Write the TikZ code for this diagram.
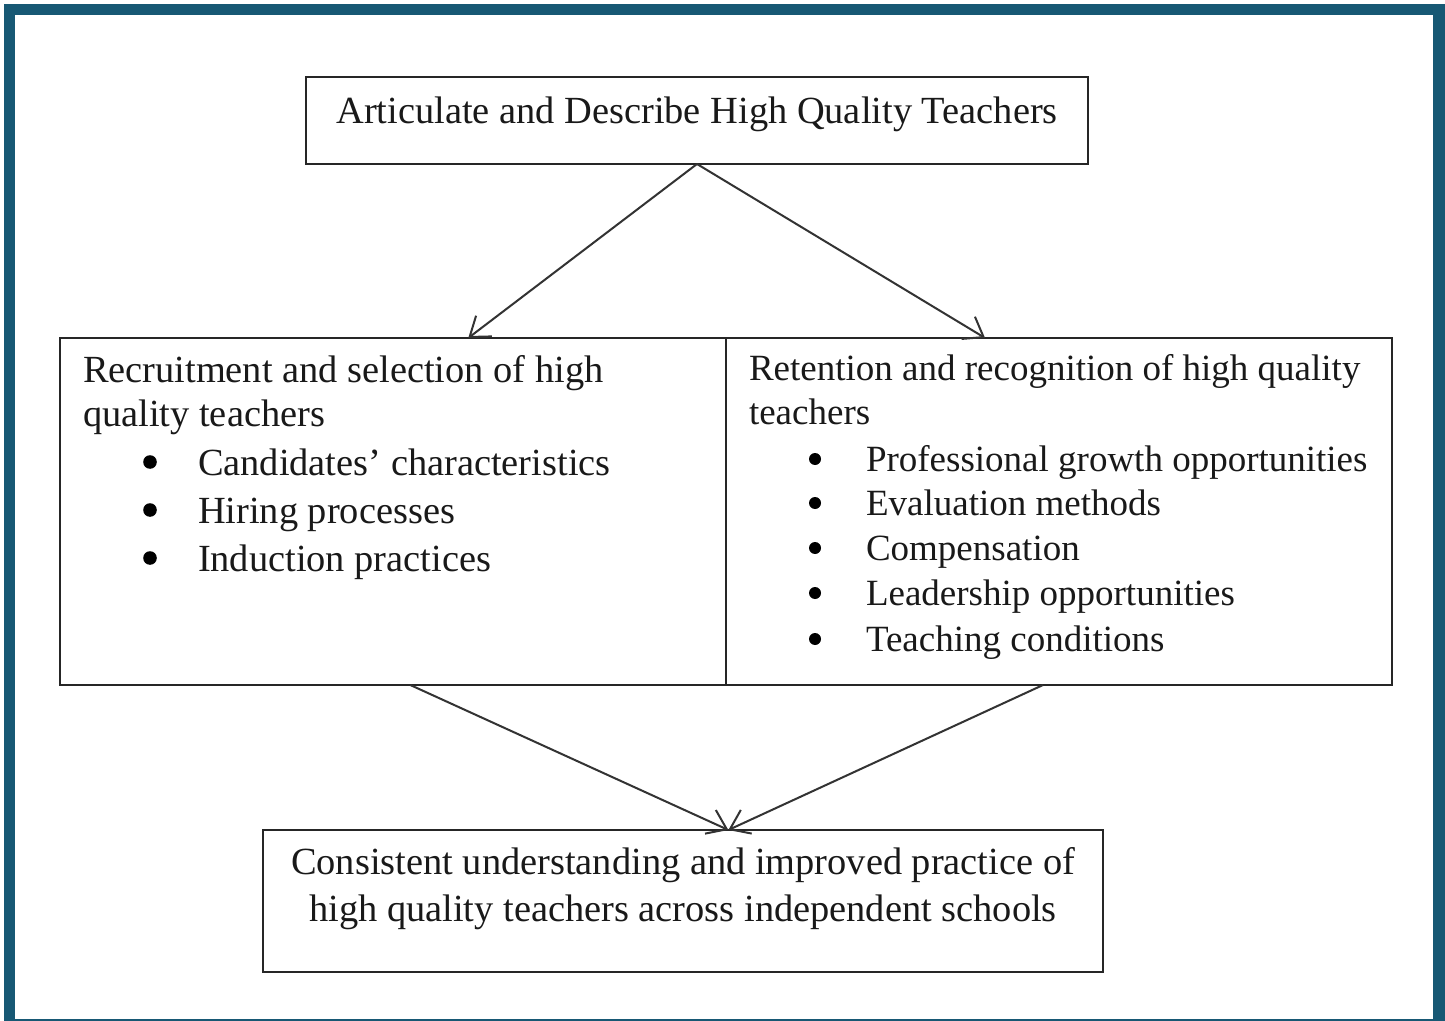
\documentclass[tikz,border=0pt]{standalone}
\usepackage{fontspec}
\setmainfont{Liberation Serif}
\usetikzlibrary{arrows.meta,calc}
\definecolor{framecol}{RGB}{23,88,116}
\begin{document}
\begin{tikzpicture}[x=0.5pt,y=-0.5pt,
  box/.style={draw=black!85,line width=1pt,inner sep=0pt,outer sep=0pt},
  txt/.style={inner sep=0pt,outer sep=0pt,font=\fontsize{19.2pt}{23pt}\selectfont,text=black!90},
  rtxt/.style={txt,font=\fontsize{18.5pt}{23pt}\selectfont},
  lt/.style={txt,anchor=base west},
  rlt/.style={rtxt,anchor=base west},
  ct/.style={txt,anchor=base},
  dot/.style={circle,fill=black,inner sep=0pt,outer sep=0pt},
  conn/.style={draw=black!80,line width=1pt,-{Straight Barb[length=9pt,width=13pt,line width=1pt]}}]
\useasboundingbox (0,0) rectangle (1445,1021);
\fill[framecol] (4,4) rectangle (1445,1021);
\fill[white] (15,15) rectangle (1433,1019);
% boxes
\node[box,minimum width=391pt,minimum height=43.5pt] (top) at (697,120.5) {};
\node[box,minimum width=333pt,minimum height=173.5pt] (left) at (393,511.5) {};
\node[box,minimum width=333pt,minimum height=173.5pt] (right) at (1059,511.5) {};
\node[box,minimum width=420pt,minimum height=71pt] (bottom) at (683,901) {};
% texts
\node[ct] (ttop) at (697,124) {Articulate and Describe High Quality Teachers};
\node[lt] (l1) at (83,383) {Recruitment and selection of high};
\node[lt] (l2) at (83,427) {quality teachers};
\foreach \y/\t [count=\i] in {475/{Candidates’ characteristics},523/{Hiring processes},571/{Induction practices}}{
  \node[dot,minimum size=6.8pt] (lb\i) at (150,\y-13) {};
  \node[lt] (li\i) at (198,\y) {\t};
}
\node[rlt] (r1) at (749,381) {Retention and recognition of high quality};
\node[rlt] (r2) at (749,424) {teachers};
\foreach \y/\t [count=\i] in {471/{Professional growth opportunities},515/{Evaluation methods},560/{Compensation},605/{Leadership opportunities},651/{Teaching conditions}}{
  \node[dot,minimum size=6pt] (rb\i) at (815,\y-12) {};
  \node[rlt] (ri\i) at (866,\y) {\t};
}
\node[ct] (b1) at (683,874) {Consistent understanding and improved practice of};
\node[ct] (b2) at (683,921) {high quality teachers across independent schools};
% connectors
\draw[conn] (top.south) -- ($(left.north west)!0.613!(left.north east)$);
\draw[conn] (top.south) -- ($(right.north west)!0.389!(right.north east)$);
\draw[conn] ($(left.south west)!0.526!(left.south east)$) -- ($(bottom.north west)!0.554!(bottom.north east)$);
\draw[conn] ($(right.south west)!0.476!(right.south east)$) -- ($(bottom.north west)!0.554!(bottom.north east)$);
\end{tikzpicture}
\end{document}
